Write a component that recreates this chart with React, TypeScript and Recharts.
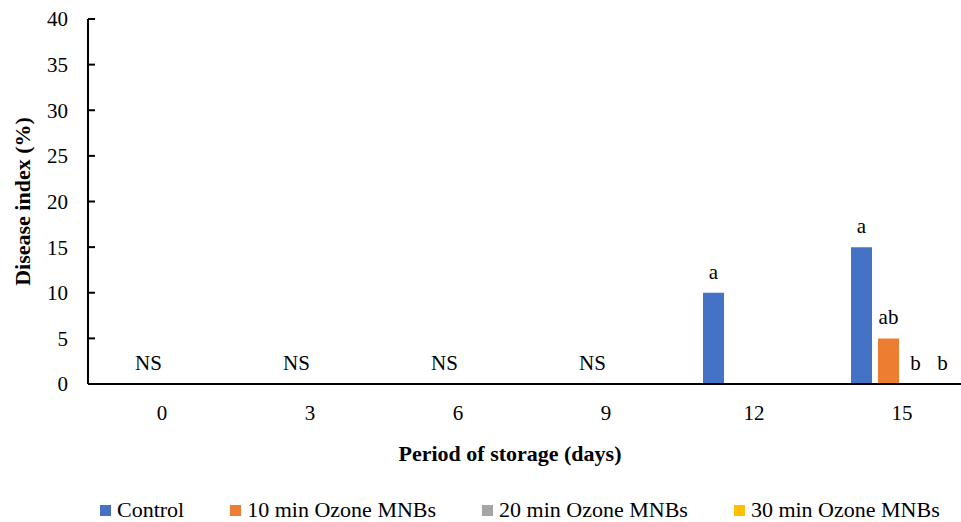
import { BarChart, Bar, XAxis, YAxis, Legend, LabelList, ReferenceLine } from "recharts"

const DAYS = ["0", "3", "6", "9", "12", "15"]
const CONTROL = [0, 0, 0, 0, 10, 15]
const OZONE_10 = [0, 0, 0, 0, 0, 5]
const OZONE_20 = [0, 0, 0, 0, 0, 0]
const OZONE_30 = [0, 0, 0, 0, 0, 0]

// significance letters shown above each bar
const CONTROL_LETTERS = ["", "", "", "", "a", "a"]
const OZONE_10_LETTERS = ["NS", "NS", "NS", "NS", "", "ab"]
const OZONE_20_LETTERS = ["", "", "", "", "", "b"]
const OZONE_30_LETTERS = ["", "", "", "", "", "b"]

const Y_TICKS = [0, 5, 10, 15, 20, 25, 30, 35, 40]

const SERIES = [
  { key: "control", name: "Control", color: "#4472C4" },
  { key: "ozone10", name: "10 min Ozone MNBs", color: "#ED7D31" },
  { key: "ozone20", name: "20 min Ozone MNBs", color: "#A5A5A5" },
  { key: "ozone30", name: "30 min Ozone MNBs", color: "#FFC000" },
]

const data = DAYS.map((d, i) => ({
  day: d,
  control: CONTROL[i],
  ozone10: OZONE_10[i],
  ozone20: OZONE_20[i],
  ozone30: OZONE_30[i],
  controlLetter: CONTROL_LETTERS[i],
  ozone10Letter: OZONE_10_LETTERS[i],
  ozone20Letter: OZONE_20_LETTERS[i],
  ozone30Letter: OZONE_30_LETTERS[i],
}))

const FONT = "'Liberation Serif', 'Times New Roman', serif"

const LetterLabel = (props: any) => {
  const { x, y, width, value } = props
  if (!value) return null
  return (
    <text x={x + width / 2} y={y - 14} textAnchor="middle" fontSize={21} fontFamily={FONT} fill="#000">
      {value}
    </text>
  )
}

// short inward tick mark from the y axis
const TickStub = (props: any) => {
  const { x1, y1 } = props
  return <path d={`M${x1},${y1}H${x1 + 7}`} stroke="#000" strokeWidth={2} fill="none" />
}

const YTitle = (props: any) => {
  const vb = props.viewBox
  const cx = 22
  const cy = vb.y + vb.height / 2
  return (
    <text
      x={cx}
      y={cy}
      transform={`rotate(-90 ${cx} ${cy})`}
      textAnchor="middle"
      dominantBaseline="central"
      fontSize={22}
      fontWeight="bold"
      fontFamily={FONT}
      fill="#000"
    >
      Disease index (%)
    </text>
  )
}

const XTitle = (props: any) => {
  const vb = props.viewBox
  return (
    <text x={510} y={vb.y + 77} textAnchor="middle" fontSize={22} fontWeight="bold" fontFamily={FONT} fill="#000">
      Period of storage (days)
    </text>
  )
}

const LegendBox = () => (
  <div style={{ display: "flex", alignItems: "center", height: 24, paddingLeft: 100, fontFamily: FONT, fontSize: 22, color: "#000" }}>
    {SERIES.map((s) => (
      <div key={s.key} style={{ display: "flex", alignItems: "center", marginRight: 46, whiteSpace: "nowrap" }}>
        <span style={{ display: "inline-block", width: 11, height: 11, background: s.color, marginRight: 6 }} />
        <span>{s.name}</span>
      </div>
    ))}
  </div>
)

export default function App() {
  return (
    <div style={{ position: "absolute", left: 0, top: 0, width: 961, height: 522, overflow: "hidden", background: "#fff" }}>
      <BarChart
        width={990}
        height={522}
        data={data}
        margin={{ top: 19, right: 14, left: 0, bottom: 0 }}
        barCategoryGap={23}
        barGap={6}
      >
        <XAxis
          dataKey="day"
          height={114}
          axisLine={{ stroke: "#000", strokeWidth: 2 }}
          tickLine={false}
          tickSize={0}
          tickMargin={21}
          tick={{ fontSize: 21, fill: "#000", fontFamily: FONT }}
          label={{ content: XTitle }}
        />
        <YAxis
          width={88}
          domain={[0, 40]}
          ticks={Y_TICKS}
          interval={0}
          axisLine={{ stroke: "#000", strokeWidth: 2 }}
          tickLine={false}
          tickSize={0}
          tickMargin={20}
          tick={{ fontSize: 21, fill: "#000", fontFamily: FONT }}
          label={{ content: YTitle }}
        />
        {Y_TICKS.map((v) => (
          <ReferenceLine key={v} y={v} shape={TickStub} ifOverflow="visible" />
        ))}
        <Legend verticalAlign="bottom" height={24} wrapperStyle={{ left: 0, width: 961 }} content={LegendBox} />
        {SERIES.map((s) => (
          <Bar key={s.key} dataKey={s.key} name={s.name} fill={s.color} minPointSize={0.01} isAnimationActive={false}>
            <LabelList dataKey={`${s.key}Letter`} content={LetterLabel} />
          </Bar>
        ))}
      </BarChart>
    </div>
  )
}
